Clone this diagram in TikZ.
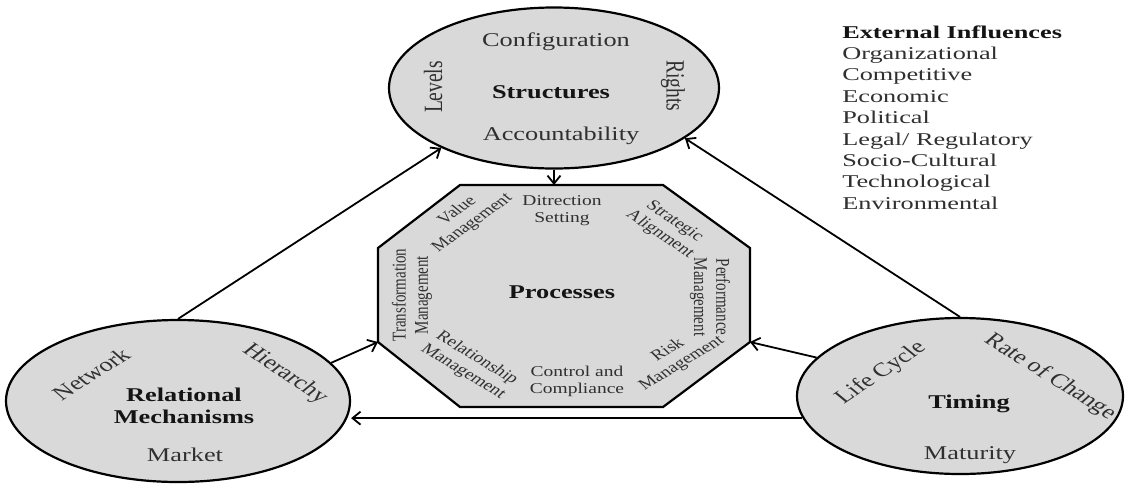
\documentclass[tikz,border=0pt]{standalone}
\usepackage{fontspec}
\setmainfont{Liberation Serif}
\usetikzlibrary{shapes.geometric,arrows.meta,calc}
\definecolor{shapefill}{RGB}{217,217,217}
\definecolor{lblgray}{RGB}{48,48,48}
\definecolor{darktxt}{RGB}{20,20,20}
\newcommand{\putlbl}[6]{\begin{scope}[shift={(#3,#4)}]\node[#1,rotate=#5,transform shape] (#2) at (0,0) {#6};\end{scope}}
\begin{document}
\begin{tikzpicture}[x=1pt,y=1pt,
  bubble/.style={ellipse,draw=black,line width=2.2pt,fill=shapefill,inner sep=0pt},
  conn/.style={line width=1.8pt,-{Straight Barb[length=8pt,width=13pt]}},
  elbl/.style={xscale=1.35,inner sep=0pt,text=lblgray,align=center,font=\fontsize{19.5}{22}\selectfont},
  ebold/.style={xscale=1.35,inner sep=0pt,text=darktxt,align=center,font=\fontsize{19.5}{22}\selectfont\bfseries},
  olbl/.style={xscale=1.3,inner sep=0pt,text=lblgray,align=center,font=\fontsize{15}{17}\selectfont},
  xlbl/.style={xscale=1.46,inner sep=0pt,anchor=base west,text=lblgray,font=\fontsize{18}{21}\selectfont},
  xhead/.style={xlbl,text=darktxt,font=\fontsize{18}{21}\selectfont\bfseries}]
\fill[white] (0,0) rectangle (1126,-483);
\useasboundingbox (0,0) rectangle (1126,-483);
% ellipses
\node[bubble,minimum width=330,minimum height=161] (S) at (554,-88) {};
\node[bubble,minimum width=344,minimum height=162] (R) at (178,-401) {};
\node[bubble,minimum width=326,minimum height=156] (T) at (960,-396) {};
% octagon
\coordinate (o1) at (460,-185);
\coordinate (o2) at (663,-185);
\coordinate (o3) at (750,-248);
\coordinate (o4) at (750,-342);
\coordinate (o5) at (663,-407);
\coordinate (o6) at (460,-407);
\coordinate (o7) at (378,-342);
\coordinate (o8) at (378,-248);
\draw[line width=2.2pt,fill=shapefill] (o1)--(o2)--(o3)--(o4)--(o5)--(o6)--(o7)--(o8)--cycle;
% connectors
\draw[conn] (R.north) -- (S.208);
\draw[conn] (T.north) -- (S.339);
\draw[conn] (S.south) -- (S.south |- o1);
\draw[conn] (T.165) -- (o4);
\draw[conn] (R.14) -- (o7);
\draw[conn] (T.188) -- (T.188 -| R.east);
% Structures labels
\putlbl{elbl}{cfg}{556}{-42}{0}{Configuration}
\putlbl{ebold}{stl}{551}{-92}{0}{Structures}
\putlbl{elbl}{acc}{561}{-136}{0}{Accountability}
\putlbl{elbl}{lev}{433}{-87}{90}{Levels}
\putlbl{elbl}{rig}{673}{-86}{-90}{Rights}
% Processes labels
\putlbl{ebold}{proc}{562}{-292}{0}{Processes}
\putlbl{olbl}{dir}{562}{-211}{0}{Ditrection\\Setting}
\putlbl{olbl}{val}{465}{-217}{43}{Value\\Management}
\putlbl{olbl}{strat}{667}{-228}{-41}{Strategic\\Alignment}
\putlbl{olbl}{perf}{710}{-297}{-90}{Performance\\Management}
\putlbl{olbl}{risk}{675}{-357}{38}{Risk\\Management}
\putlbl{olbl}{ctl}{577}{-381}{0}{Control and\\Compliance}
\putlbl{olbl}{rel}{470}{-365}{-38}{Relationship\\Management}
\putlbl{olbl}{trf}{412}{-295}{90}{Transformation\\Management}
% Relational labels
\putlbl{elbl}{net}{91}{-374}{40}{Network}
\putlbl{elbl}{hier}{285}{-374}{-42}{Hierarchy}
\putlbl{ebold}{rm}{184}{-406}{0}{Relational\\Mechanisms}
\putlbl{elbl}{mkt}{185}{-455}{0}{Market}
% Timing labels
\putlbl{elbl}{lc}{881}{-373}{42}{Life Cycle}
\putlbl{elbl}{roc}{1050}{-377}{-40}{Rate of Change}
\putlbl{ebold}{tim}{969}{-404}{0}{Timing}
\putlbl{elbl}{mat}{970}{-455}{0}{Maturity}
% External influences
\putlbl{xhead}{x0}{842}{-38}{0}{External Influences}
\putlbl{xlbl}{x1}{842}{-59.4}{0}{Organizational}
\putlbl{xlbl}{x2}{842}{-80.8}{0}{Competitive}
\putlbl{xlbl}{x3}{842}{-102.2}{0}{Economic}
\putlbl{xlbl}{x4}{842}{-123.6}{0}{Political}
\putlbl{xlbl}{x5}{842}{-145}{0}{Legal/ Regulatory}
\putlbl{xlbl}{x6}{842}{-166.4}{0}{Socio-Cultural}
\putlbl{xlbl}{x7}{842}{-187.8}{0}{Technological}
\putlbl{xlbl}{x8}{842}{-209.2}{0}{Environmental}
\end{tikzpicture}
\end{document}
